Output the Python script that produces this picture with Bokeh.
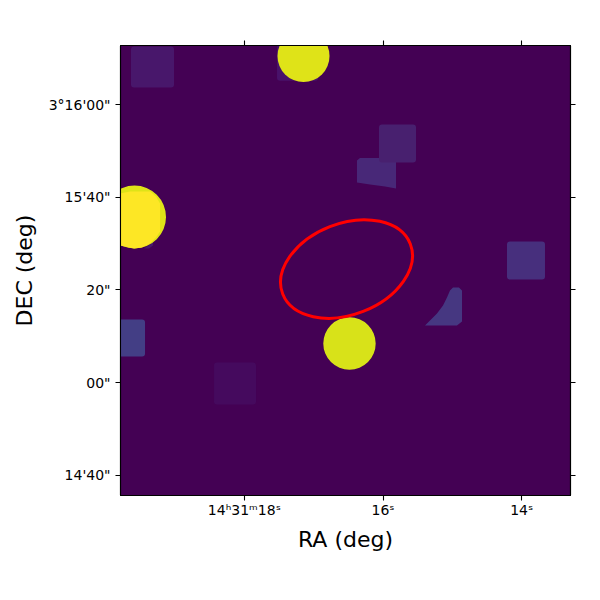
from bokeh.plotting import figure
from bokeh.models import Range1d, LinearAxis, FixedTicker
from bokeh.embed import file_html
from bokeh.resources import INLINE

# offsets in arcsec from RA 14h31m16s / DEC 3d15m00s
ra_ticks = [29.95, 0.0, -29.95]
ra_labels = ["14ʰ31ᵐ18ˢ", "16ˢ", "14ˢ"]
dec_ticks = [60, 40, 20, 0, -20]
dec_labels = ["3°16'00\"", "15'40\"", "20\"", "00\"", "14'40\""]

# footprints (rounded boxes)
box_left = [54.43, 36.50, 22.89, 57.50, -26.78]
box_right = [45.14, 27.43, 14.00, 51.40, -34.99]
box_top = [72.57, 4.32, 73.00, 13.61, 30.45]
box_bottom = [63.71, -4.75, 65.20, 5.62, 22.25]
box_color = ["#48176b", "#450a5e", "#48126a", "#433e85", "#472f7d"]

# clipped footprints
c_x = [5.62, 5.62, 4.97, -2.81, -2.81, -0.43, 2.81]
c_y = [43.20, 47.95, 48.49, 48.49, 41.90, 42.33, 42.76]
c_color = "#482878"
b_left, b_right, b_top, b_bottom = [0.86], [-7.13], [55.72], [47.52]
b_color = "#48206f"
d_x = [-9.07, -15.98, -17.06, -17.06, -16.41, -15.12, -14.47, -13.82, -12.96, -11.66, -10.15]
d_y = [12.31, 12.31, 13.17, 19.87, 20.52, 20.52, 19.87, 18.36, 16.63, 14.90, 13.39]
d_color = "#463781"
sliver_x = [51.62, 50.32, 49.68, 49.68, 50.54]
sliver_y = [28.94, 29.81, 30.45, 29.59, 28.94]
sliver_color = "#47196b"

# bright sources
src_x = [53.67, 17.17, 7.24]
src_y = [35.75, 70.52, 8.42]
src_r = [6.80, 5.62, 5.66]
src_color = ["#dfe318", "#dfe318", "#d8e219"]

# overlap of box and left source
over_x = [56.80, 54.64, 50.32, 49.03, 48.16, 48.16, 49.03, 50.32, 52.05, 53.78, 56.80]
over_y = [40.82, 41.25, 41.25, 40.17, 38.66, 32.61, 31.32, 30.02, 29.16, 28.94, 29.59]
over_color = "#fde725"

# region ellipse
ell_x, ell_y, ell_w, ell_h, ell_deg = 7.88, 24.52, 29.6, 19.7, 21.4

p = figure(width=592, height=592, frame_width=450, frame_height=450,
           x_range=Range1d(56.7, -40.5), y_range=Range1d(-24.4, 72.8),
           output_backend="svg", toolbar_location=None,
           min_border_left=120, min_border_right=22, min_border_top=45, min_border_bottom=97,
           background_fill_color="#440154", border_fill_color="white",
           x_axis_label="RA (deg)", y_axis_label="DEC (deg)")
p.grid.visible = False
p.outline_line_color = "black"
p.outline_line_width = 1.1


def style(ax, ticks, labels, show):
    ax.ticker = FixedTicker(ticks=ticks)
    ax.minor_tick_line_color = None
    ax.major_tick_in = 0
    ax.major_tick_out = 5
    ax.major_tick_line_color = "black"
    ax.major_tick_line_width = 1.1
    ax.axis_line_color = "black"
    ax.axis_line_width = 1.1
    ax.major_label_overrides = {t: (l if show else "") for t, l in zip(ticks, labels)}
    ax.major_label_text_font = "DejaVu Sans"
    ax.major_label_text_font_size = "14px"
    ax.major_label_text_color = "black"
    ax.axis_label_text_font = "DejaVu Sans"
    ax.axis_label_text_font_size = "22px"
    ax.axis_label_text_font_style = "normal"
    ax.axis_label_text_color = "black"


style(p.below[0], ra_ticks, ra_labels, True)
style(p.left[0], dec_ticks, dec_labels, True)
p.below[0].major_label_standoff = 1
p.left[0].major_label_standoff = 5
p.below[0].axis_label_standoff = 6
p.left[0].axis_label_standoff = 9
p.left[0].major_label_orientation = "horizontal"
top = LinearAxis()
right = LinearAxis()
style(top, ra_ticks, ra_labels, False)
style(right, dec_ticks, dec_labels, False)
p.add_layout(top, "above")
p.add_layout(right, "right")

p.quad(left=box_left, right=box_right, top=box_top, bottom=box_bottom,
       fill_color=box_color, line_color=None, border_radius=3)
p.patch(c_x, c_y, fill_color=c_color, line_color=None)
p.quad(left=b_left, right=b_right, top=b_top, bottom=b_bottom,
       fill_color=b_color, line_color=None, border_radius=3)
p.patch(d_x, d_y, fill_color=d_color, line_color=None)
p.patch(sliver_x, sliver_y, fill_color=sliver_color, line_color=None)
p.circle(x=src_x, y=src_y, radius=src_r, fill_color=src_color, line_color=None)
p.patch(over_x, over_y, fill_color=over_color, line_color=None)
p.ellipse(x=[ell_x], y=[ell_y], width=[ell_w], height=[ell_h], angle=[ell_deg], angle_units="deg",
          fill_color=None, line_color="red", line_width=3)

open("out.html", "w").write(file_html(p, INLINE))
